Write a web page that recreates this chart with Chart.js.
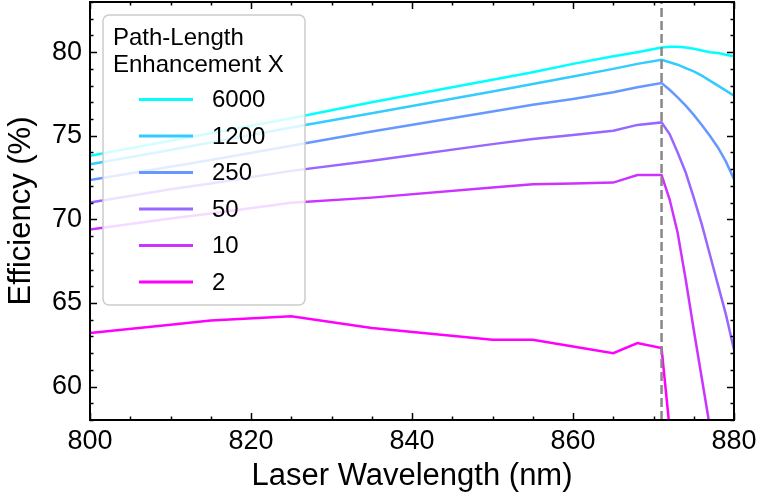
<!DOCTYPE html>
<html><head><meta charset="utf-8">
<script src="https://cdn.jsdelivr.net/npm/chart.js@4/dist/chart.umd.min.js"></script>
<style>html,body{margin:0;padding:0;background:#fff}#wrap{width:759px;height:497px}</style>
</head><body><div id="wrap"><canvas id="c" width="759" height="497"></canvas></div>
<script>
// ---- data ----
const wavelength = [800, 810, 815, 825, 835, 850, 855, 860, 865, 868, 871, 872, 873, 874, 875, 876, 877, 878, 879, 880];
const eff6000 = [73.8, 74.7, 75.15, 76.05, 77.0, 78.35, 78.8, 79.3, 79.75, 80.0, 80.28, 80.32, 80.32, 80.28, 80.2, 80.1, 80.0, 79.95, 79.85, 79.75];
const eff1200 = [73.3, 74.15, 74.6, 75.5, 76.35, 77.65, 78.1, 78.55, 79.0, 79.3, 79.55, 79.4, 79.25, 79.05, 78.85, 78.6, 78.3, 78.0, 77.7, 77.4];
const eff250  = [72.35, 73.15, 73.55, 74.4, 75.25, 76.45, 76.85, 77.2, 77.6, 77.9, 78.15, 77.75, 77.3, 76.8, 76.25, 75.65, 75.0, 74.3, 73.45, 72.4];
const eff50   = [71.0, 71.8, 72.15, 72.9, 73.5, 74.5, 74.8, 75.05, 75.3, 75.65, 75.8, 75.1, 74.0, 72.8, 71.3, 69.7, 67.9, 66.1, 64.3, 62.2];
const eff10   = [69.4, 70.05, 70.35, 71.0, 71.3, 71.9, 72.1, 72.15, 72.2, 72.65, 72.65, 71.2, 69.2, 66.4, 63.4, 60.5, 57.6, 54.6, null, null];
const eff2    = [63.2, 63.7, 63.95, 64.2, 63.5, 62.8, 62.8, 62.4, 62.0, 62.6, 62.3, 57.5, 52.6, null, null, null, null, null, null, null];
const seriesValues = [eff6000, eff1200, eff250, eff50, eff10, eff2];
const seriesLabels = ["6000", "1200", "250", "50", "10", "2"];
const seriesColors = ["#00ffff", "#33ccff", "#6699ff", "#9966ff", "#cc33ff", "#ff00ff"];
const legendTitle = ["Path-Length", "Enhancement X"];
const xTicks = [800, 820, 840, 860, 880];
const yTicks = [60, 65, 70, 75, 80];
const xMinorStep = 5;
const yMinorStep = 1;
const xRange = [800, 880];
const yRange = [58, 83];
const laserMark = 871;
const FONT = "'Liberation Sans', Arial, sans-serif";

const datasets = seriesValues.map((vals, i) => ({
  label: seriesLabels[i],
  data: wavelength.map((w, j) => ({x: w, y: vals[j]})),
  borderColor: seriesColors[i],
  backgroundColor: seriesColors[i],
  borderWidth: 2.5,
  pointRadius: 0,
  tension: 0,
  fill: false,
  spanGaps: false
}));
datasets.push({
  label: '__mark',
  data: [{x: laserMark, y: yRange[0]}, {x: laserMark, y: yRange[1]}],
  borderColor: '#888888',
  borderWidth: 2.5,
  borderDash: [9, 4],
  pointRadius: 0,
  order: -1
});

const legendBox = {
  id: 'legendBox',
  afterDatasetsDraw(chart) {
    const ctx = chart.ctx;
    ctx.save();
    const bx = 103, by = 15, bw = 202, bh = 290, r = 6;
    ctx.beginPath();
    ctx.roundRect(bx, by, bw, bh, r);
    ctx.fillStyle = 'rgba(255,255,255,0.82)';
    ctx.fill();
    ctx.strokeStyle = '#cccccc';
    ctx.lineWidth = 1.5;
    ctx.stroke();
    ctx.fillStyle = '#000';
    ctx.font = '24px ' + FONT;
    ctx.textBaseline = 'alphabetic';
    ctx.textAlign = 'left';
    legendTitle.forEach((t, i) => ctx.fillText(t, 113, 45 + i * 27));
    ctx.textBaseline = 'middle';
    chart.data.datasets.filter(d => d.label !== '__mark').forEach((d, i) => {
      const yy = 99.5 + i * 36.5;
      ctx.strokeStyle = d.borderColor;
      ctx.lineWidth = 3;
      ctx.beginPath(); ctx.moveTo(139, yy); ctx.lineTo(193, yy); ctx.stroke();
      ctx.fillStyle = '#000';
      ctx.fillText(d.label, 212, yy + 1);
    });
    ctx.restore();
  }
};

const frame = {
  id: 'frame',
  afterDraw(chart) {
    const {ctx, chartArea: a, scales: {x, y}} = chart;
    ctx.save();
    ctx.strokeStyle = '#000';
    ctx.lineWidth = 1.5;
    const seg = (x1, y1, x2, y2) => { ctx.beginPath(); ctx.moveTo(x1, y1); ctx.lineTo(x2, y2); ctx.stroke(); };
    for (let v = xRange[0]; v <= xRange[1]; v += xMinorStep) {
      const p = Math.round(x.getPixelForValue(v)) + 0.5;
      const L = xTicks.includes(v) ? 7 : 3.5;
      seg(p, a.bottom, p, a.bottom - L);
      seg(p, a.top, p, a.top + L);
    }
    for (let v = Math.ceil(yRange[0]); v <= yRange[1]; v += yMinorStep) {
      const p = Math.round(y.getPixelForValue(v)) + 0.5;
      const L = yTicks.includes(v) ? 7 : 3.5;
      seg(a.left, p, a.left + L, p);
      seg(a.right, p, a.right - L, p);
    }
    ctx.lineWidth = 2;
    ctx.strokeRect(a.left, a.top, a.right - a.left, a.bottom - a.top);
    ctx.restore();
  }
};

new Chart(document.getElementById('c'), {
  type: 'line',
  data: {datasets},
  options: {
    responsive: false,
    animation: false,
    layout: {padding: {top: 2, right: 25, left: 0, bottom: 0}},
    plugins: {legend: {display: false}, tooltip: {enabled: false}},
    scales: {
      x: {
        type: 'linear', min: xRange[0], max: xRange[1],
        grid: {display: false, drawTicks: false},
        border: {display: false},
        afterBuildTicks: s => { s.ticks = xTicks.map(v => ({value: v})); },
        afterFit: s => { s.height = 77; s.paddingLeft = 0; s.paddingRight = 0; },
        ticks: {autoSkip: false, maxRotation: 0, padding: 5, color: '#000', font: {family: FONT, size: 27}},
        title: {display: true, text: 'Laser Wavelength (nm)', color: '#000', font: {family: FONT, size: 31}, padding: {top: 0, bottom: 2}}
      },
      y: {
        type: 'linear', min: yRange[0], max: yRange[1],
        grid: {display: false, drawTicks: false},
        border: {display: false},
        afterBuildTicks: s => { s.ticks = yTicks.map(v => ({value: v})); },
        afterFit: s => { s.width = 90; s.paddingTop = 0; s.paddingBottom = 0; },
        ticks: {autoSkip: false, padding: 8, color: '#000', font: {family: FONT, size: 27}},
        title: {display: true, text: 'Efficiency (%)', color: '#000', font: {family: FONT, size: 31}, padding: {top: 3, bottom: 0}}
      }
    }
  },
  plugins: [legendBox, frame]
});
</script>
</body></html>
